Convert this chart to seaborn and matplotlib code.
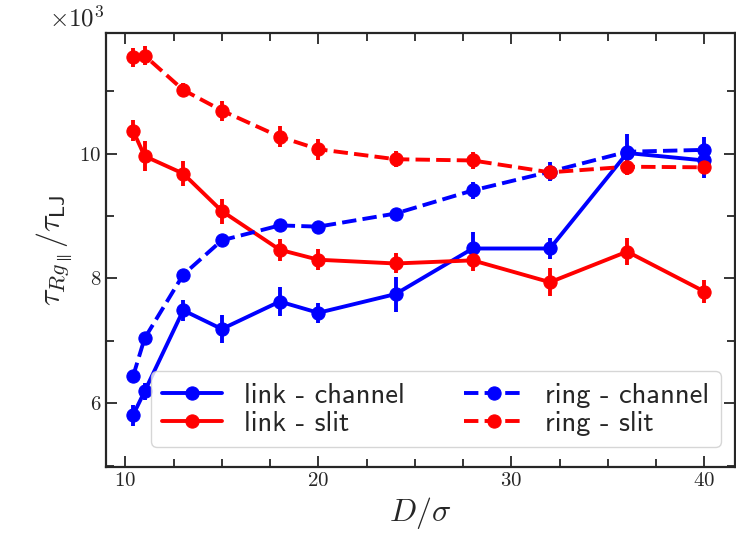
import numpy as np
import pandas as pd
import matplotlib
matplotlib.use("Agg")
import matplotlib.pyplot as plt
import seaborn as sns
from matplotlib.ticker import AutoMinorLocator, MultipleLocator, FuncFormatter

# ---- data (values in units of tau_LJ) ----
D = [10.4, 11, 13, 15, 18, 20, 24, 28, 32, 36, 40]

link_channel = [5810, 6190, 7490, 7190, 7630, 7450, 7750, 8480, 8480, 10010, 9890]
link_channel_err = [170, 130, 170, 230, 230, 160, 280, 260, 170, 300, 280]

link_slit = [10370, 9960, 9680, 9080, 8460, 8300, 8240, 8290, 7940, 8430, 7790]
link_slit_err = [170, 240, 200, 200, 180, 170, 160, 170, 220, 220, 180]

ring_channel = [6430, 7040, 8060, 8610, 8850, 8830, 9040, 9410, 9710, 10030, 10060]
ring_channel_err = [50, 90, 80, 90, 50, 50, 60, 140, 150, 80, 200]

ring_slit = [11540, 11570, 11020, 10690, 10270, 10070, 9910, 9890, 9700, 9790, 9780]
ring_slit_err = [150, 150, 110, 160, 170, 170, 130, 140, 110, 140, 110]

labels = ["link - channel", "link - slit", "ring - channel", "ring - slit"]
colors = ["#0000ff", "#ff0000", "#0000ff", "#ff0000"]
styles = ["-", "-", "--", "--"]

sns.set_style("ticks")
plt.rcParams["font.family"] = ["cmr10", "DejaVu Serif"]
plt.rcParams["mathtext.fontset"] = "cm"
plt.rcParams["axes.formatter.use_mathtext"] = True
plt.rcParams["axes.unicode_minus"] = False

fig = plt.figure(figsize=(7.36, 5.52), dpi=100)
ax = fig.add_axes([0.144, 0.154, 0.855, 0.786])

series = [
    (link_channel, link_channel_err),
    (link_slit, link_slit_err),
    (ring_channel, ring_channel_err),
    (ring_slit, ring_slit_err),
]

for (vals, errs), lab, col, ls in zip(series, labels, colors, styles):
    df = pd.DataFrame({"D": D, "tau": vals})
    ax.errorbar(D, vals, yerr=errs, fmt="none", ecolor=col, elinewidth=2.8,
                capsize=0, zorder=2)
    sns.lineplot(data=df, x="D", y="tau", ax=ax, color=col, linestyle=ls,
                 linewidth=2.8, marker="o", markersize=9.5, markeredgewidth=0.8,
                 markeredgecolor=col, label=lab, zorder=3)

ax.set_xlim(9.0, 41.6)
ax.set_ylim(4980, 11930)

ax.xaxis.set_major_locator(MultipleLocator(10))
ax.xaxis.set_minor_locator(AutoMinorLocator(4))
ax.yaxis.set_major_locator(MultipleLocator(2000))
ax.yaxis.set_minor_locator(AutoMinorLocator(2))

ax.xaxis.set_major_formatter(FuncFormatter(lambda v, p: r"$\mathdefault{%g}$" % v))
ax.yaxis.set_major_formatter(FuncFormatter(lambda v, p: r"$\mathdefault{%g}$" % (v / 1000)))
ax.text(-0.002, 1.005, r"$\times\mathdefault{10^{3}}$", transform=ax.transAxes,
        ha="right", va="bottom", fontsize=18)

ax.tick_params(which="both", direction="in", top=True, right=True,
               labelsize=15, width=1.3)
ax.tick_params(which="major", length=8)
ax.tick_params(which="minor", length=5.5)
for sp in ax.spines.values():
    sp.set_linewidth(1.6)

ax.set_xlabel(r"$D/\sigma$", fontsize=23)
ax.set_ylabel(r"$\tau_{Rg_{\parallel}}/\tau_{\mathsf{LJ}}$", fontsize=23)

handles, labs = ax.get_legend_handles_labels()
leg = ax.legend(handles, labs, ncol=2, loc="lower right",
                bbox_to_anchor=(0.977, 0.046), borderaxespad=0,
                prop={"family": ["cmss10", "DejaVu Sans"], "size": 20.5},
                handlelength=2.1, handletextpad=0.75, columnspacing=2.1,
                labelspacing=0.1, borderpad=0.4,
                frameon=True, fancybox=True)
leg.get_frame().set_edgecolor("0.8")

fig.savefig("out.png", dpi=100)
